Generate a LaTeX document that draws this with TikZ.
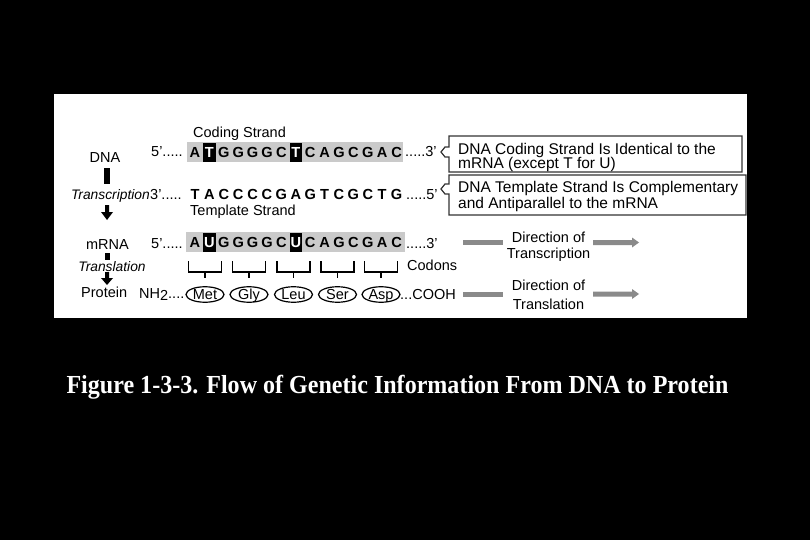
\documentclass[tikz,border=0pt]{standalone}
\usepackage{fontspec}
\setmainfont{Liberation Sans}
\newfontfamily\capfont{Liberation Serif}
\usetikzlibrary{shapes.geometric}
\definecolor{band}{HTML}{CACACA}
\definecolor{arrgray}{HTML}{8A8A8A}
\definecolor{boxline}{HTML}{333333}
\begin{document}
\begin{tikzpicture}[x=1pt,y=-1pt,
  lab/.style={inner sep=0pt,font=\fontsize{14.5}{16}\selectfont,anchor=base},
  ilab/.style={lab,font=\itshape\fontsize{13.8}{16}\selectfont},
  boxtxt/.style={inner sep=0pt,font=\fontsize{15.5}{18}\selectfont,anchor=base west},
  seq/.style={inner sep=0pt,font=\bfseries\fontsize{14.6}{16}\selectfont,text height=10.5pt,text depth=0pt},
  hl/.style={seq,fill=black,text=white,minimum width=12.5pt,minimum height=19.5pt},
  aa/.style={ellipse,draw,line width=1.2pt,inner sep=0pt,minimum width=38pt,minimum height=15.5pt,
    font=\fontsize{14.5}{16}\selectfont,text height=10pt,text depth=0pt},
  blackarrow/.style={fill=black},
  grayarrow/.style={fill=arrgray},
  note/.style={draw=boxline,line width=1.2pt}
]
\useasboundingbox (0,0) rectangle (810,540);
\fill[black] (0,0) rectangle (810,540);
\fill[white] (54,94.5) rectangle (747,318);

% bands
\fill[band] (187,142) rectangle (403,162);
\fill[band] (186,232) rectangle (405,252);

% left labels
\node[lab] (dna) at (105,163) {DNA};
\node[ilab,anchor=base east] (transcr) at (150,199) {Transcription};
\node[lab] (mrna) at (107.5,249) {mRNA};
\node[ilab] (transl) at (112,271) {Translation};
\node[lab,anchor=base west] (protein) at (81,297) {Protein};

% black flow arrows
\fill[blackarrow] (104,168) rectangle (110,184);
\fill[blackarrow] (105,205) rectangle (109,212) (101,212) -- (113,212) -- (107,220) -- cycle;
\fill[blackarrow] (104.5,253) rectangle (109.5,260);
\fill[blackarrow] (105,272) rectangle (109,278) (101,278) -- (113,278) -- (107,285) -- cycle;

% strand labels
\node[lab,anchor=base west] (coding) at (193,138) {Coding Strand};
\node[lab,anchor=base west] (template) at (190,215) {Template Strand};

% row 1 : coding strand
\node[lab,anchor=base west] (r1l) at (151,157) {5'.....};
\foreach \c/\s [count=\i from 0] in {A/seq,T/hl,G/seq,G/seq,G/seq,G/seq,C/seq,T/hl,C/seq,A/seq,G/seq,C/seq,G/seq,A/seq,C/seq}
  \node[\s] (a\i) at ({195+14.4*\i},152.5) {\c};
\node[lab,anchor=base west] (r1r) at (405,157) {.....3'};

% row 2 : template strand
\node[lab,anchor=base west] (r2l) at (150,199) {3'.....};
\foreach \c [count=\i from 0] in {T,A,C,C,C,C,G,A,G,T,C,G,C,T,G}
  \node[seq] (b\i) at ({195+14.4*\i},194) {\c};
\node[lab,anchor=base west] (r2r) at (406,199) {.....5'};

% row 3 : mRNA
\node[lab,anchor=base west] (r3l) at (151,248) {5'.....};
\foreach \c/\s [count=\i from 0] in {A/seq,U/hl,G/seq,G/seq,G/seq,G/seq,C/seq,U/hl,C/seq,A/seq,G/seq,C/seq,G/seq,A/seq,C/seq}
  \node[\s] (m\i) at ({195+14.4*\i},242.5) {\c};
\node[lab,anchor=base west] (r3r) at (406,248) {.....3'};

% codons and amino acids
\foreach \t/\x [count=\i] in {Met/205,Gly/249,Leu/293.5,Ser/337.5,Asp/381} {
  \draw[line width=1.1pt] (\x-16.5,261) -- (\x-16.5,272) -- (\x+16.5,272) -- (\x+16.5,261);
  \draw[line width=1.1pt] (\x,272) -- (\x,278);
  \node[aa] (p\i) at (\x,294.5) {\t};
}
\node[lab,anchor=base west] (codons) at (407,270) {Codons};
\node[lab,anchor=base west] (nh) at (139,298) {NH\raisebox{-2.5pt}{2}....};
\node[lab,anchor=base west] (cooh) at (400,299) {...COOH};

% note boxes
\draw[note] (449,136) -- (742,136) -- (742,172) -- (449,172) -- (449,157) -- (445,157) -- (441,152) -- (445,147) -- (449,147) -- cycle;
\node[boxtxt] (n1a) at (458,154) {DNA Coding Strand Is Identical to the};
\node[boxtxt] (n1b) at (458,168.5) {mRNA (except T for U)};
\draw[note] (449,175) -- (746,175) -- (746,215) -- (449,215) -- (449,194) -- (445,194) -- (441,189) -- (445,184) -- (449,184) -- cycle;
\node[boxtxt] (n2a) at (458,192) {DNA Template Strand Is Complementary};
\node[boxtxt] (n2b) at (458,208) {and Antiparallel to the mRNA};

% direction arrows
\node[lab] (dt1) at (548.5,242) {Direction of};
\node[lab] (dt2) at (548.5,258) {Transcription};
\fill[grayarrow] (463,240) rectangle (503,245);
\fill[grayarrow] (593,240) -- (632,240) -- (632,237.5) -- (639,242.5) -- (632,247.5) -- (632,245) -- (593,245) -- cycle;
\node[lab] (dl1) at (548.5,290) {Direction of};
\node[lab] (dl2) at (548.5,309) {Translation};
\fill[grayarrow] (463,291.5) rectangle (503,296.5);
\fill[grayarrow] (593,291.5) -- (632,291.5) -- (632,289) -- (639,294) -- (632,299) -- (632,296.5) -- (593,296.5) -- cycle;

% caption
\node[inner sep=0pt,anchor=base,text=white,xscale=0.925,font=\capfont\bfseries\fontsize{26}{30}\selectfont] (cap) at (397.5,393)
  {Figure 1-3-3. Flow of Genetic Information From DNA to Protein};
\end{tikzpicture}
\end{document}
